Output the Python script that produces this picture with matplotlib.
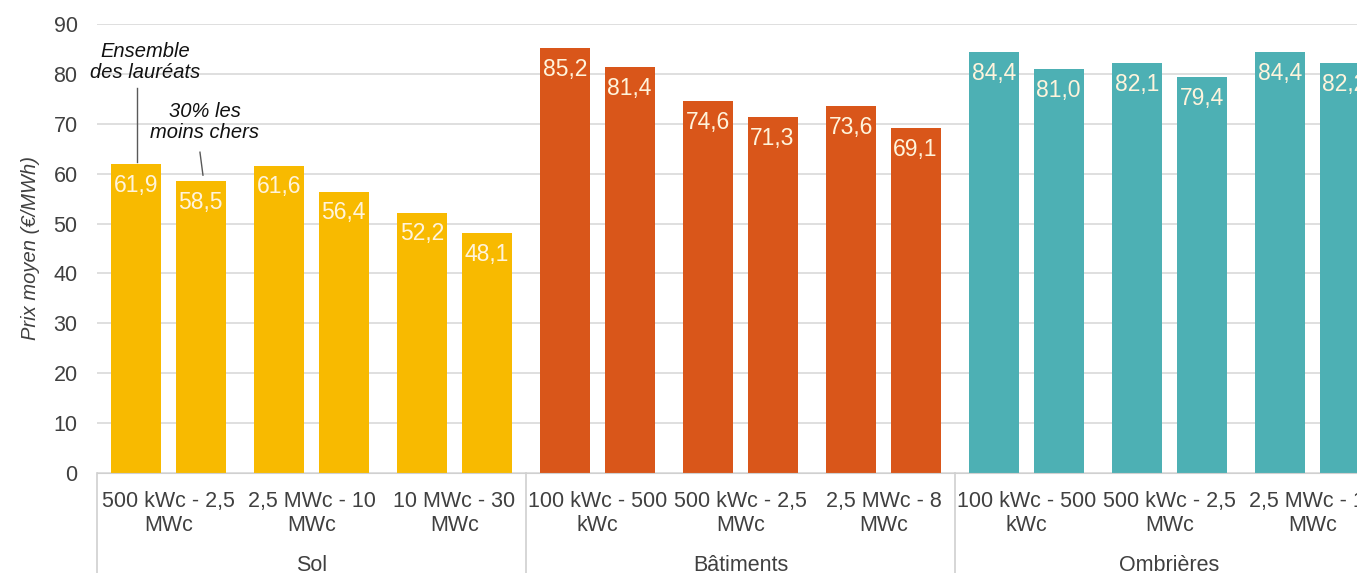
import numpy as np
import matplotlib.pyplot as plt
import matplotlib.transforms as mtrans

plt.rcParams['font.family'] = ['Liberation Sans', 'DejaVu Sans']

# catégories de puissance par famille
familles = ['Sol', 'Bâtiments', 'Ombrières']
tranches = [
    ['500 kWc - 2,5\nMWc', '2,5 MWc - 10\nMWc', '10 MWc - 30\nMWc'],
    ['100 kWc - 500\nkWc', '500 kWc - 2,5\nMWc', '2,5 MWc - 8\nMWc'],
    ['100 kWc - 500\nkWc', '500 kWc - 2,5\nMWc', '2,5 MWc - 10\nMWc'],
]
# prix moyen (€/MWh) : ensemble des lauréats / 30% les moins chers
ensemble = [61.9, 61.6, 52.2, 85.2, 74.6, 73.6, 84.4, 82.1, 84.4]
moins_chers = [58.5, 56.4, 48.1, 81.4, 71.3, 69.1, 81.0, 79.4, 82.2]
couleurs = ['#F8BA00', '#D9561A', '#4DB0B4']

W, H = 1357, 573
fig = plt.figure(figsize=(W / 100, H / 100), dpi=100)
x0, x1 = 97, 1384   # la dernière catégorie dépasse du cadre
y0, y1 = 473, 24
ax = fig.add_axes([x0 / W, 1 - y0 / H, (x1 - x0) / W, (y0 - y1) / H])

n = len(ensemble)
centres = np.arange(n) + 0.5
larg = 0.35
cols = [couleurs[i // 3] for i in range(n)]
b1 = ax.bar(centres - 0.224, ensemble, larg, color=cols, zorder=2)
b2 = ax.bar(centres + 0.224, moins_chers, larg, color=cols, zorder=2)

for bars, vals in ((b1, ensemble), (b2, moins_chers)):
    for b, v in zip(bars, vals):
        ax.annotate(f'{v:.1f}'.replace('.', ','),
                    (b.get_x() + b.get_width() / 2, v), xytext=(0, -7),
                    textcoords='offset points', ha='center', va='top',
                    color='#FFF4DC', fontsize=16.5, zorder=3)

ax.set_xlim(0, n)
ax.set_ylim(0, 90)
ax.set_yticks(range(0, 91, 10))
ax.tick_params(axis='y', length=0, labelsize=15.5, labelcolor='#404040', pad=14)
ax.set_xticks([])
ax.yaxis.grid(True, color='#D9D9D9', lw=1.2, zorder=0)
for s in ('top', 'right', 'left'):
    ax.spines[s].set_visible(False)
ax.spines['bottom'].set_color('#D0D0D0')
ax.set_ylabel('Prix moyen (€/MWh)', style='italic', fontsize=14.5,
              color='#404040', labelpad=10)

# étiquettes d'axe à deux niveaux
trans = mtrans.blended_transform_factory(ax.transData, ax.transAxes)
k = 0
for g, fam in enumerate(familles):
    for lab in tranches[g]:
        ax.text(k + 0.5, -0.04, lab, transform=trans, ha='center', va='top',
                fontsize=15.5, color='#404040', linespacing=1.2, clip_on=False)
        k += 1
    ax.text(g * 3 + 1.5, -0.183, fam, transform=trans, ha='center', va='top',
            fontsize=15.5, color='#404040', clip_on=False)
for xs in range(0, n + 1, 3):
    ax.plot([xs, xs], [0, -0.3], transform=trans, color='#D0D0D0', lw=1.2,
            clip_on=False)

# légende sous forme d'annotations sur les deux premières barres
ax.text(0.336, 78.4, 'Ensemble\ndes lauréats', ha='center', va='bottom',
        style='italic', fontsize=14.5, color='#111111', linespacing=1.15)
ax.plot([0.28, 0.28], [77.2, 62.3], color='#595959', lw=1, zorder=3)
ax.text(0.755, 66.3, '30% les\nmoins chers', ha='center', va='bottom',
        style='italic', fontsize=14.5, color='#111111', linespacing=1.15)
ax.plot([0.72, 0.741], [64.3, 59.7], color='#595959', lw=1, zorder=3)

fig.savefig('out.png', dpi=100)
